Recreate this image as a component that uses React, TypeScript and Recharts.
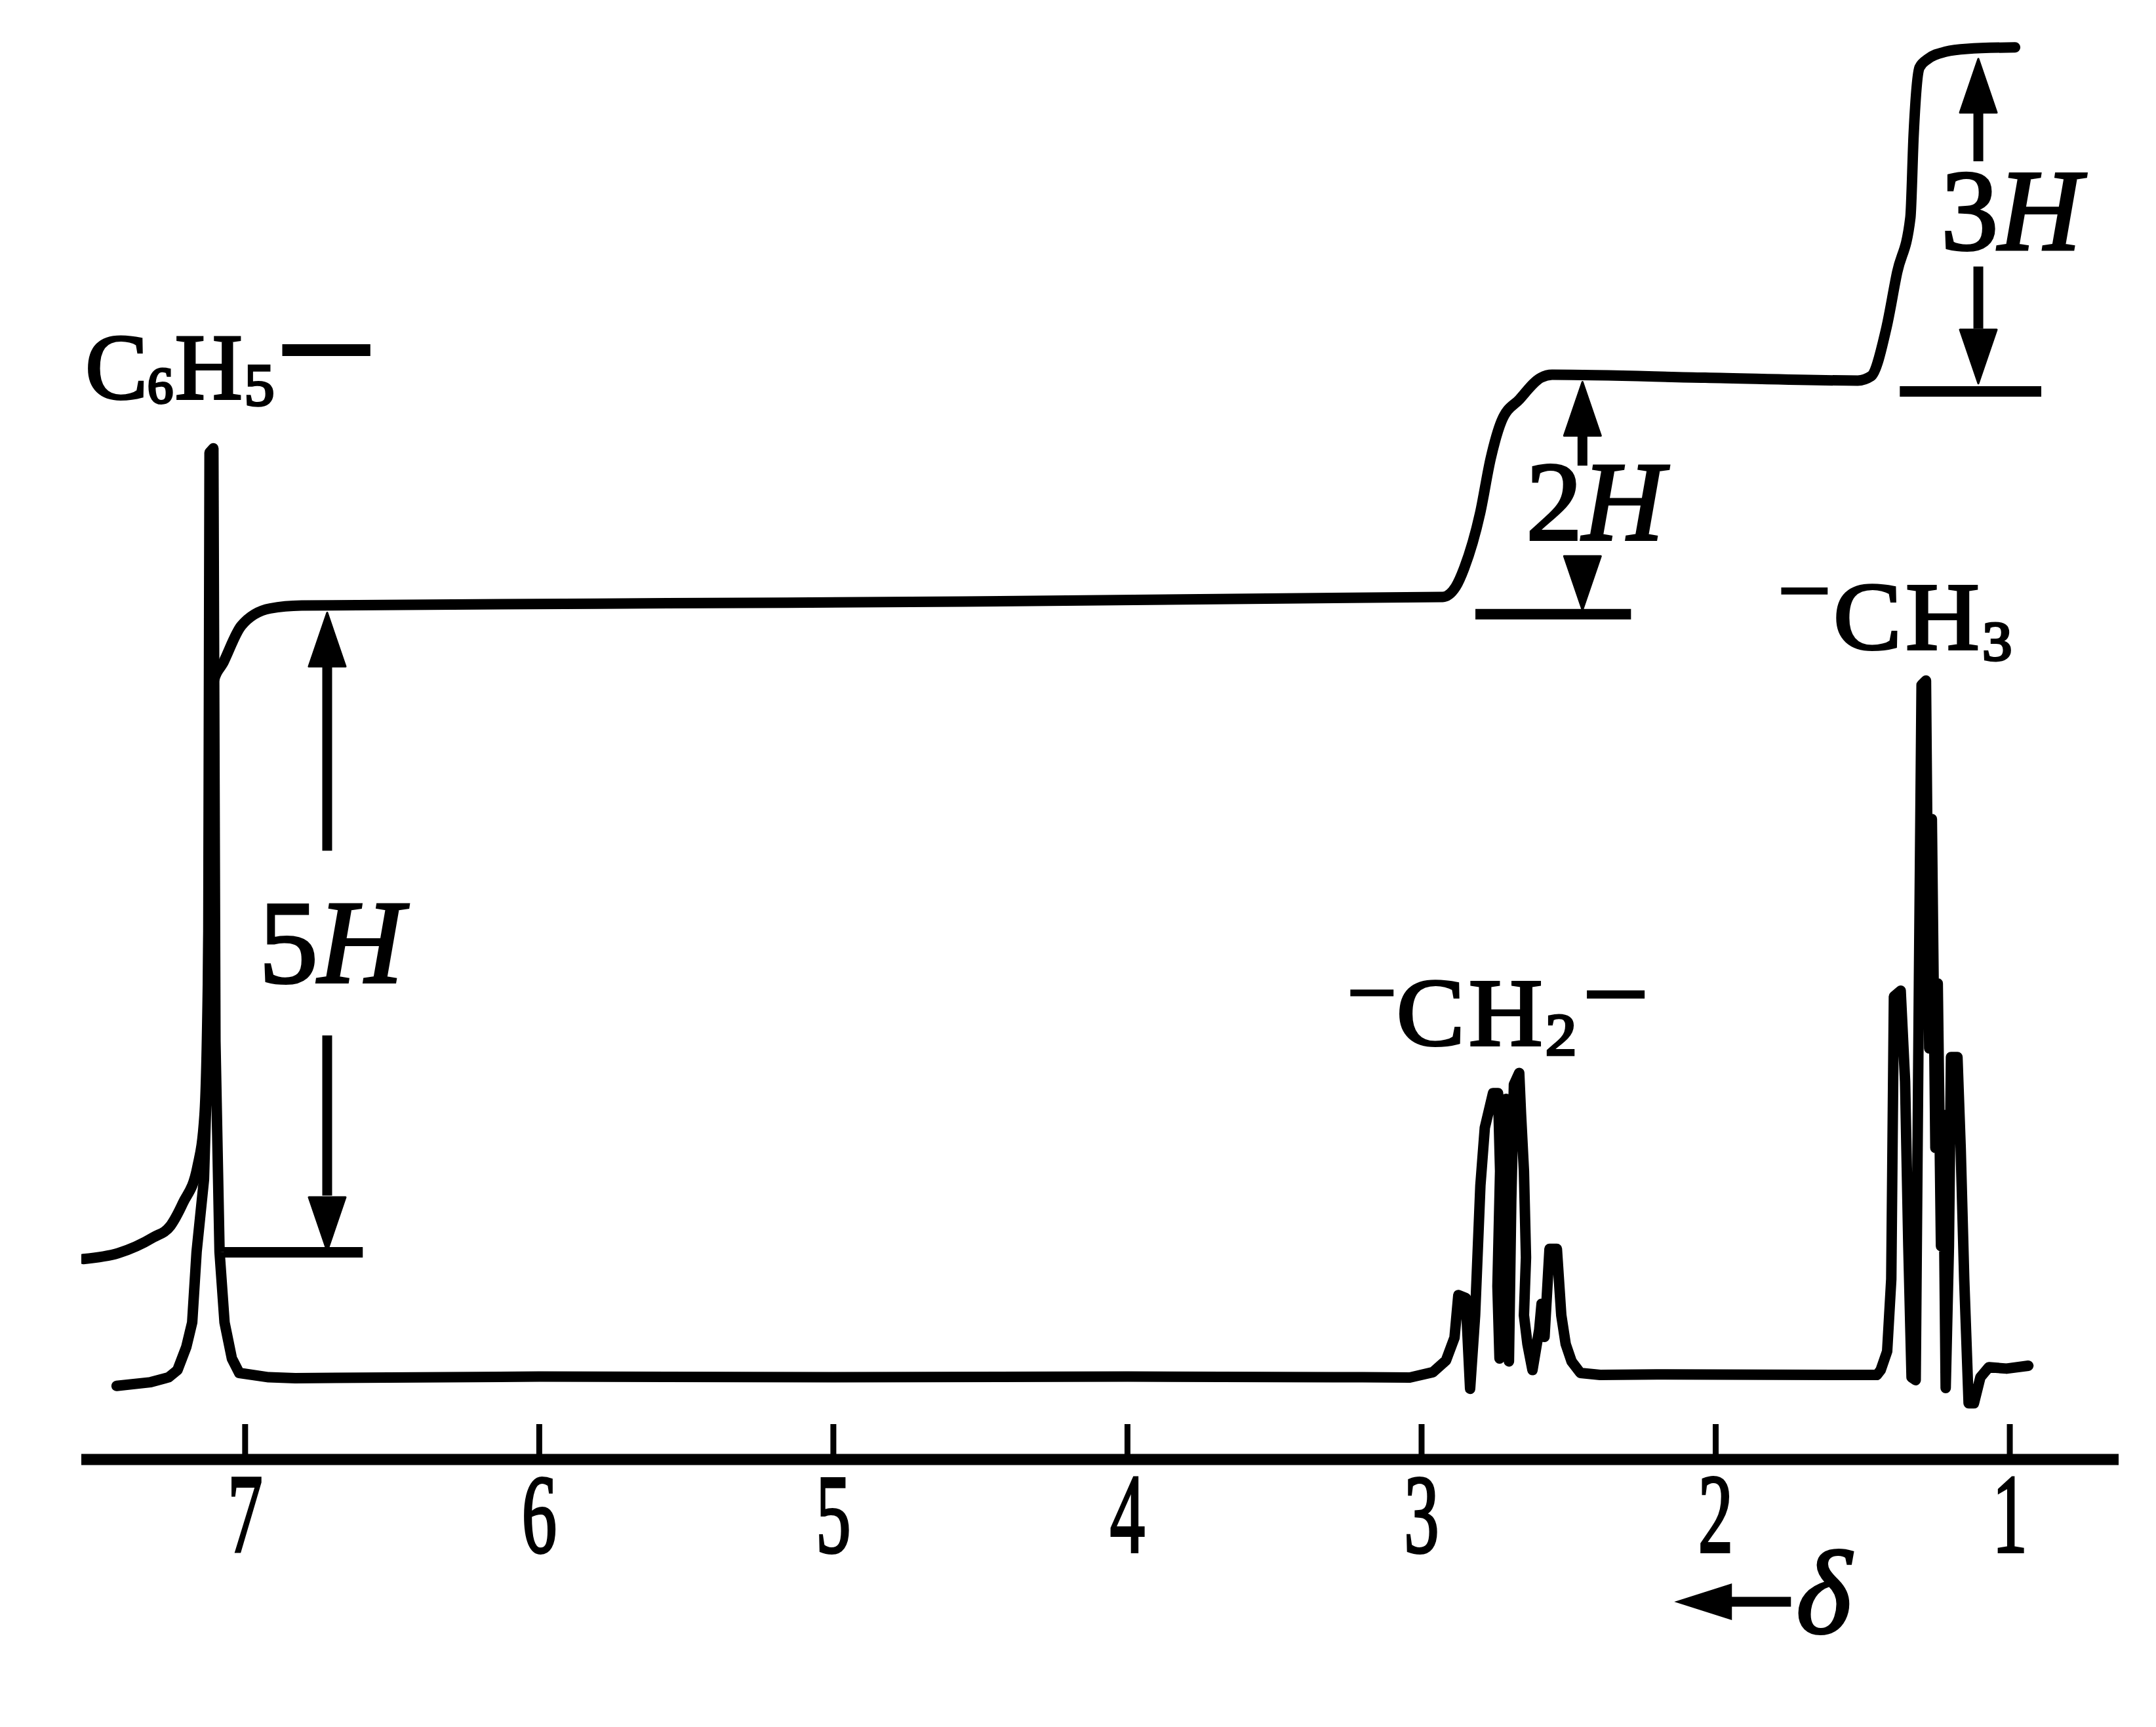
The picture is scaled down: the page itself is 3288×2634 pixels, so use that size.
import React from 'react';
import { LineChart, Line, XAxis, YAxis, ReferenceLine, ReferenceDot } from 'recharts';

// chemical shift axis (ppm), reversed
const shiftTicks = [7, 6, 5, 4, 3, 2, 1];
const shiftDomain: [number, number] = [0.63, 7.557];
const heightDomain: [number, number] = [0, 100];

// lower trace: [δ, relative height]
const aromaticPeak: [number, number][] = [
  [7.437, 5.1], [7.321, 5.36], [7.26, 5.7], [7.23, 6.2], [7.2, 7.8], [7.18, 9.5],
  [7.165, 14.4], [7.14, 19.4], [7.126, 29.0], [7.121, 69.8], [7.108, 70.1], [7.101, 29.0],
  [7.087, 14.4], [7.07, 9.5], [7.045, 7.0], [7.02, 6.0], [6.92, 5.7], [6.83, 5.64],
];
const flatBaseline: [number, number][] = [
  [6.0, 5.75], [5.0, 5.7], [4.0, 5.75], [3.2, 5.7],
];
const methyleneQuartet: [number, number][] = [
  [3.04, 5.68], [2.962, 6.05], [2.917, 6.86], [2.888, 8.45], [2.875, 11.4], [2.85, 11.2],
  [2.835, 4.9], [2.818, 10.0], [2.8, 19.0], [2.785, 23.0], [2.757, 25.4], [2.74, 25.4],
  [2.733, 20.0], [2.742, 12.0], [2.735, 7.0], [2.727, 14.0], [2.72, 24.5], [2.712, 25.0],
  [2.706, 16.0], [2.712, 10.0], [2.703, 6.8], [2.695, 18.0], [2.686, 26.0], [2.668, 26.8],
  [2.662, 24.0], [2.652, 20.0], [2.645, 14.0], [2.652, 10.0], [2.64, 8.0], [2.623, 6.2],
  [2.6, 9.0], [2.592, 10.8], [2.582, 8.5], [2.565, 14.6], [2.54, 14.6], [2.525, 10.0],
  [2.51, 8.0], [2.49, 6.8], [2.46, 6.0], [2.393, 5.86],
];
const midBaseline: [number, number][] = [
  [2.2, 5.9], [1.8, 5.88],
];
const methylTriplet: [number, number][] = [
  [1.452, 5.86], [1.439, 6.2], [1.417, 7.5], [1.403, 12.5], [1.394, 32.1], [1.371, 32.5],
  [1.356, 26.2], [1.345, 14.8], [1.334, 5.7], [1.32, 5.5], [1.309, 33.0], [1.3, 53.7],
  [1.285, 54.0], [1.274, 28.5], [1.265, 44.4], [1.253, 21.6], [1.245, 33.0], [1.234, 14.8],
  [1.227, 23.9], [1.218, 4.95], [1.207, 14.8], [1.2, 27.9], [1.178, 27.9], [1.167, 21.6],
  [1.155, 12.5], [1.14, 3.9], [1.122, 3.9], [1.1, 5.7], [1.071, 6.4], [1.011, 6.3], [0.937, 6.5],
];

// upper trace: integral curve [δ, relative height]
const integralCurve: [number, number][] = [
  [7.55, 13.9], [7.432, 14.3], [7.312, 15.4], [7.254, 16.2], [7.211, 17.8], [7.162, 20.3],
  [7.138, 23.9], [7.124, 37.5], [7.12, 51.2], [7.109, 53.8], [7.073, 55.3], [7.013, 57.8],
  [6.915, 59.0], [6.808, 59.2], [5.158, 59.4], [2.928, 59.8], [2.884, 60.5], [2.855, 61.8],
  [2.801, 65.6], [2.765, 69.4], [2.728, 72.0], [2.667, 73.5], [2.594, 75.0], [2.556, 75.2],
  [2.036, 75.0], [1.517, 74.8], [1.472, 75.1], [1.419, 78.5], [1.383, 82.3], [1.338, 86.1],
  [1.327, 91.8], [1.307, 96.5], [1.278, 97.1], [1.218, 97.6], [1.145, 97.8], [0.982, 97.9],
];

const toRows = (pts: [number, number][]) => pts.map(([x, y]) => ({ x, y }));
const spectrumData = toRows([
  ...aromaticPeak, ...flatBaseline, ...methyleneQuartet, ...midBaseline, ...methylTriplet,
]);
const integralData = toRows(integralCurve);

// integration step annotations
const steps = [
  { label: '5', shaft: 6.721, upTip: 58.7, upTail: 42.2, downTop: 29.4, downTip: 14.45, bar: [7.073, 6.6, 14.36], text: [6.953, 33.1], size: 180, upShaftStart: 55.0, downShaftEnd: 18.3 },
  { label: '2', shaft: 2.453, upTip: 74.7, upTail: 68.9, downTop: 62.7, downTip: 58.9, bar: [2.817, 2.288, 58.6], text: [2.645, 63.77], size: 172, upShaftStart: 71.0, downShaftEnd: 62.7 },
  { label: '3', shaft: 1.107, upTip: 97.1, upTail: 90.0, downTop: 82.7, downTip: 74.6, bar: [1.374, 0.893, 74.05], text: [1.234, 83.9], size: 175, upShaftStart: 93.6, downShaftEnd: 78.4 },
];

const SERIF = '"Liberation Serif", "DejaVu Serif", serif';
const INK = '#000';
const TEXT_STROKE = 4;

const ShiftTick = (props: any) => {
  const { x, y, payload } = props;
  return (
    <g>
      <line x1={x} x2={x} y1={y} y2={y - 54} stroke={INK} strokeWidth={9} />
      <text
        transform={`translate(${x},${y + 141}) scale(0.62,1)`}
        textAnchor="middle"
        fontFamily={SERIF}
        fontSize={172}
        fill={INK}
        stroke={INK}
        strokeWidth={4}
      >
        {payload.value}
      </text>
    </g>
  );
};

const arrowHead = (dir: 'up' | 'down') => (p: any) => {
  const { cx, cy } = p;
  const L = 82;
  const W = 28;
  const pts =
    dir === 'up'
      ? `${cx},${cy} ${cx - W},${cy + L} ${cx + W},${cy + L}`
      : `${cx},${cy} ${cx - W},${cy - L} ${cx + W},${cy - L}`;
  return <polygon points={pts} fill={INK} stroke={INK} strokeWidth={3} strokeLinejoin="round" />;
};

const stepLabel = (digit: string, size: number) => (p: any) => (
  <text x={p.cx} y={p.cy} fontFamily={SERIF} fontSize={size} fill={INK} stroke={INK} strokeWidth={TEXT_STROKE}>
    <tspan>{digit}</tspan>
    <tspan fontStyle="italic">H</tspan>
  </text>
);

const phenylLabel = (p: any) => (
  <text x={p.cx} y={p.cy} fontFamily={SERIF} fill={INK} stroke={INK} strokeWidth={TEXT_STROKE}>
    <tspan fontSize={142}>C</tspan>
    <tspan fontSize={78} dy={6}>6</tspan>
    <tspan fontSize={142} dy={-6} dx={3}>H</tspan>
    <tspan fontSize={92} dy={10} dx={3}>5</tspan>
    <tspan fontSize={280} dy={9} dx={0}>−</tspan>
  </text>
);

const methyleneLabel = (p: any) => (
  <text transform={`translate(${p.cx},${p.cy}) scale(1.06,1)`} fontFamily={SERIF} fill={INK} stroke={INK} strokeWidth={TEXT_STROKE}>
    <tspan fontSize={125} dy={-38}>−</tspan>
    <tspan fontSize={147} dy={38}>C</tspan>
    <tspan fontSize={147} dx={6}>H</tspan>
    <tspan fontSize={90} dy={15} dx={4}>2</tspan>
    <tspan fontSize={170} dy={-36} dx={8}>−</tspan>
  </text>
);

const methylLabel = (p: any) => (
  <text transform={`translate(${p.cx},${p.cy}) scale(1.06,1)`} fontFamily={SERIF} fill={INK} stroke={INK} strokeWidth={TEXT_STROKE}>
    <tspan fontSize={135} dy={-44}>−</tspan>
    <tspan fontSize={147} dy={44} dx={4}>C</tspan>
    <tspan fontSize={147} dx={6}>H</tspan>
    <tspan fontSize={85} dy={17} dx={4}>3</tspan>
  </text>
);

const deltaLabel = (p: any) => {
  const { cx, cy } = p;
  return (
    <g>
      <polygon points={`${cx},${cy} ${cx + 88},${cy - 28} ${cx + 88},${cy + 28}`} fill={INK} />
      <line x1={cx + 80} x2={cx + 178} y1={cy} y2={cy} stroke={INK} strokeWidth={15} />
      <text x={cx + 186} y={cy + 47} fontFamily={SERIF} fontSize={180} fontStyle="italic" fill={INK} stroke={INK} strokeWidth={TEXT_STROKE}>δ</text>
    </g>
  );
};

export default function App() {
  return (
    <div style={{ width: 3280, height: 2626, background: '#fff' }}>
      <LineChart
        width={3280}
        height={2626}
        margin={{ top: 18, right: 57, bottom: 108, left: 116 }}
        style={{ background: '#fff' }}
      >
        <XAxis
          dataKey="x"
          type="number"
          domain={shiftDomain}
          reversed
          allowDataOverflow
          ticks={shiftTicks}
          interval={0}
          height={300}
          axisLine={{ stroke: INK, strokeWidth: 17 }}
          tickLine={false}
          tickSize={0}
          tickMargin={0}
          tick={(p: any) => <ShiftTick {...p} />}
        />
        <YAxis type="number" domain={heightDomain} allowDataOverflow hide />

        <Line
          data={integralData}
          dataKey="y"
          type="monotone"
          stroke={INK}
          strokeWidth={16}
          strokeLinejoin="round"
          strokeLinecap="round"
          dot={false}
          activeDot={false}
          isAnimationActive={false}
        />
        <Line
          data={spectrumData}
          dataKey="y"
          type="linear"
          stroke={INK}
          strokeWidth={16}
          strokeLinejoin="round"
          strokeLinecap="round"
          dot={false}
          activeDot={false}
          isAnimationActive={false}
        />

        {steps.map((s) => (
          <React.Fragment key={s.label}>
            <ReferenceLine
              segment={[{ x: s.shaft, y: s.upShaftStart }, { x: s.shaft, y: s.upTail }]}
              stroke={INK}
              strokeWidth={15}
            />
            <ReferenceDot x={s.shaft} y={s.upTip} r={0} shape={arrowHead('up')} />
            {s.downShaftEnd < s.downTop && (
              <ReferenceLine
                segment={[{ x: s.shaft, y: s.downTop }, { x: s.shaft, y: s.downShaftEnd }]}
                stroke={INK}
                strokeWidth={15}
              />
            )}
            <ReferenceDot x={s.shaft} y={s.downTip} r={0} shape={arrowHead('down')} />
            <ReferenceLine
              segment={[{ x: s.bar[0], y: s.bar[2] }, { x: s.bar[1], y: s.bar[2] }]}
              stroke={INK}
              strokeWidth={16}
            />
            <ReferenceDot x={s.text[0]} y={s.text[1]} r={0} shape={stepLabel(s.label, s.size)} />
          </React.Fragment>
        ))}

        <ReferenceDot x={7.543} y={73.55} r={0} shape={phenylLabel} />
        <ReferenceDot x={3.252} y={28.73} r={0} shape={methyleneLabel} />
        <ReferenceDot x={1.789} y={56.18} r={0} shape={methylLabel} />
        <ReferenceDot x={2.141} y={-9.86} r={0} ifOverflow="visible" shape={deltaLabel} />
      </LineChart>
    </div>
  );
}
